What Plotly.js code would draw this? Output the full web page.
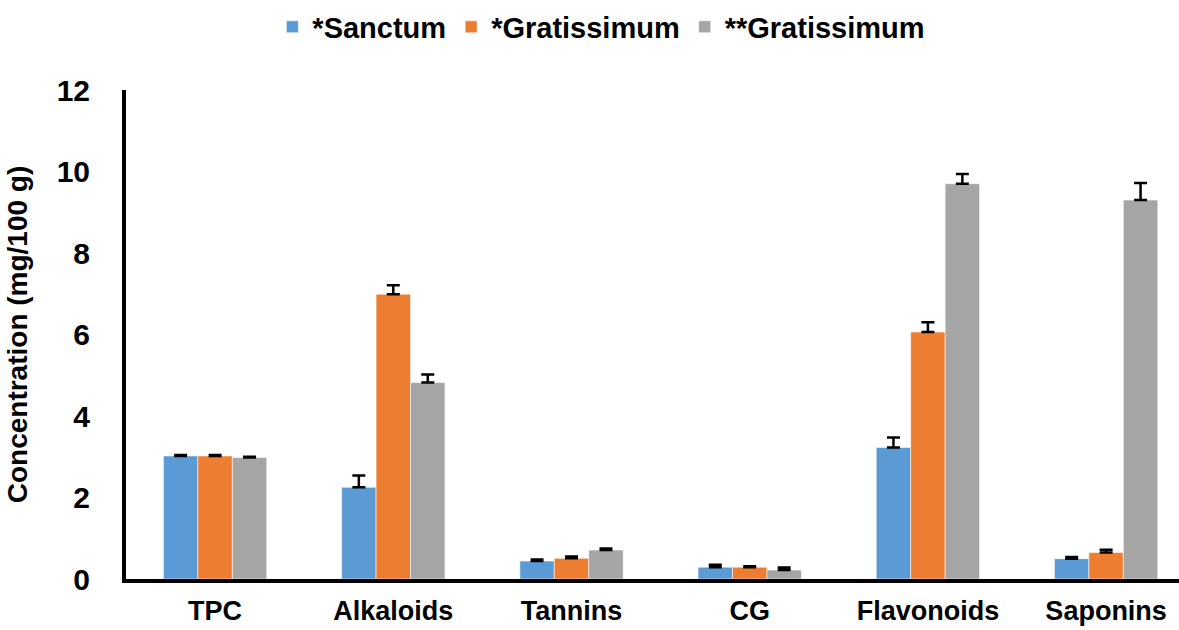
<!DOCTYPE html>
<html>
<head>
<meta charset="utf-8">
<script src="https://cdn.plot.ly/plotly-3.0.1.min.js"></script>
<style>
  html, body { margin: 0; padding: 0; background: #fff; }
  #chart { width: 1179px; height: 630px; }
</style>
</head>
<body>
<div id="chart"></div>
<script>
// ---- data ----
const categories = ['TPC', 'Alkaloids', 'Tannins', 'CG', 'Flavonoids', 'Saponins'];
const seriesNames = ['*Sanctum', '*Gratissimum', '**Gratissimum'];
const sanctum = [3.02, 2.25, 0.44, 0.29, 3.23, 0.50];
const sanctumErr = [0.02, 0.29, 0.04, 0.06, 0.24, 0.04];
const gratissimum = [3.02, 6.99, 0.51, 0.29, 6.06, 0.65];
const gratissimumErr = [0.02, 0.22, 0.04, 0.02, 0.24, 0.07];
const gratissimum2 = [2.98, 4.82, 0.71, 0.22, 9.70, 9.30];
const gratissimum2Err = [0.02, 0.20, 0.04, 0.06, 0.24, 0.42];
const yTicks = [0, 2, 4, 6, 8, 10, 12];

const colors = ['#5B9BD5', '#ED7D31', '#A5A5A5'];
const FONT = 'Liberation Sans, Arial, sans-serif';

function barTrace(name, y, err, color) {
  return {
    type: 'bar',
    name: name,
    x: categories,
    y: y,
    marker: { color: color, line: { color: 'rgba(255,255,255,0.55)', width: 1 } },
    error_y: {
      type: 'data', symmetric: false, array: err, arrayminus: err.map(() => 0),
      visible: true, color: '#000', thickness: 2.5, width: 6.5
    },
    hoverinfo: 'x+y'
  };
}

const data = [
  barTrace(seriesNames[0], sanctum, sanctumErr, colors[0]),
  barTrace(seriesNames[1], gratissimum, gratissimumErr, colors[1]),
  barTrace(seriesNames[2], gratissimum2, gratissimum2Err, colors[2])
];

const layout = {
  width: 1179,
  height: 630,
  margin: { l: 126, r: 0, t: 90, b: 51, pad: 0 },
  paper_bgcolor: '#fff',
  plot_bgcolor: '#fff',
  font: { family: FONT, color: '#000' },
  barmode: 'group',
  bargap: 0.42,
  bargroupgap: 0,
  showlegend: true,
  legend: {
    orientation: 'h',
    x: 0.139, xanchor: 'left',
    y: 1.129, yanchor: 'middle',
    font: { family: FONT, size: 29, color: '#000', weight: 'bold' },
    itemwidth: 30,
    traceorder: 'normal'
  },
  xaxis: {
    type: 'category',
    range: [-0.5, 5.409],
    showline: true, linecolor: '#000', linewidth: 4,
    showgrid: false, zeroline: false,
    ticks: '',
    tickfont: { family: FONT, size: 27, color: '#000', weight: 'bold' },
    ticklabelstandoff: 5,
    fixedrange: true
  },
  yaxis: {
    range: [0, 12],
    tickvals: yTicks,
    ticktext: yTicks.map(String),
    showline: true, linecolor: '#000', linewidth: 4,
    showgrid: false, zeroline: false,
    ticks: '',
    tickfont: { family: FONT, size: 30, color: '#000', weight: 'bold' },
    ticklabelstandoff: 26,
    title: {
      text: 'Concentration (mg/100 g)',
      font: { family: FONT, size: 28, color: '#000', weight: 'bold' },
      standoff: 22
    },
    fixedrange: true
  }
};

Plotly.newPlot('chart', data, layout, { displayModeBar: false, staticPlot: true });
</script>
</body>
</html>
